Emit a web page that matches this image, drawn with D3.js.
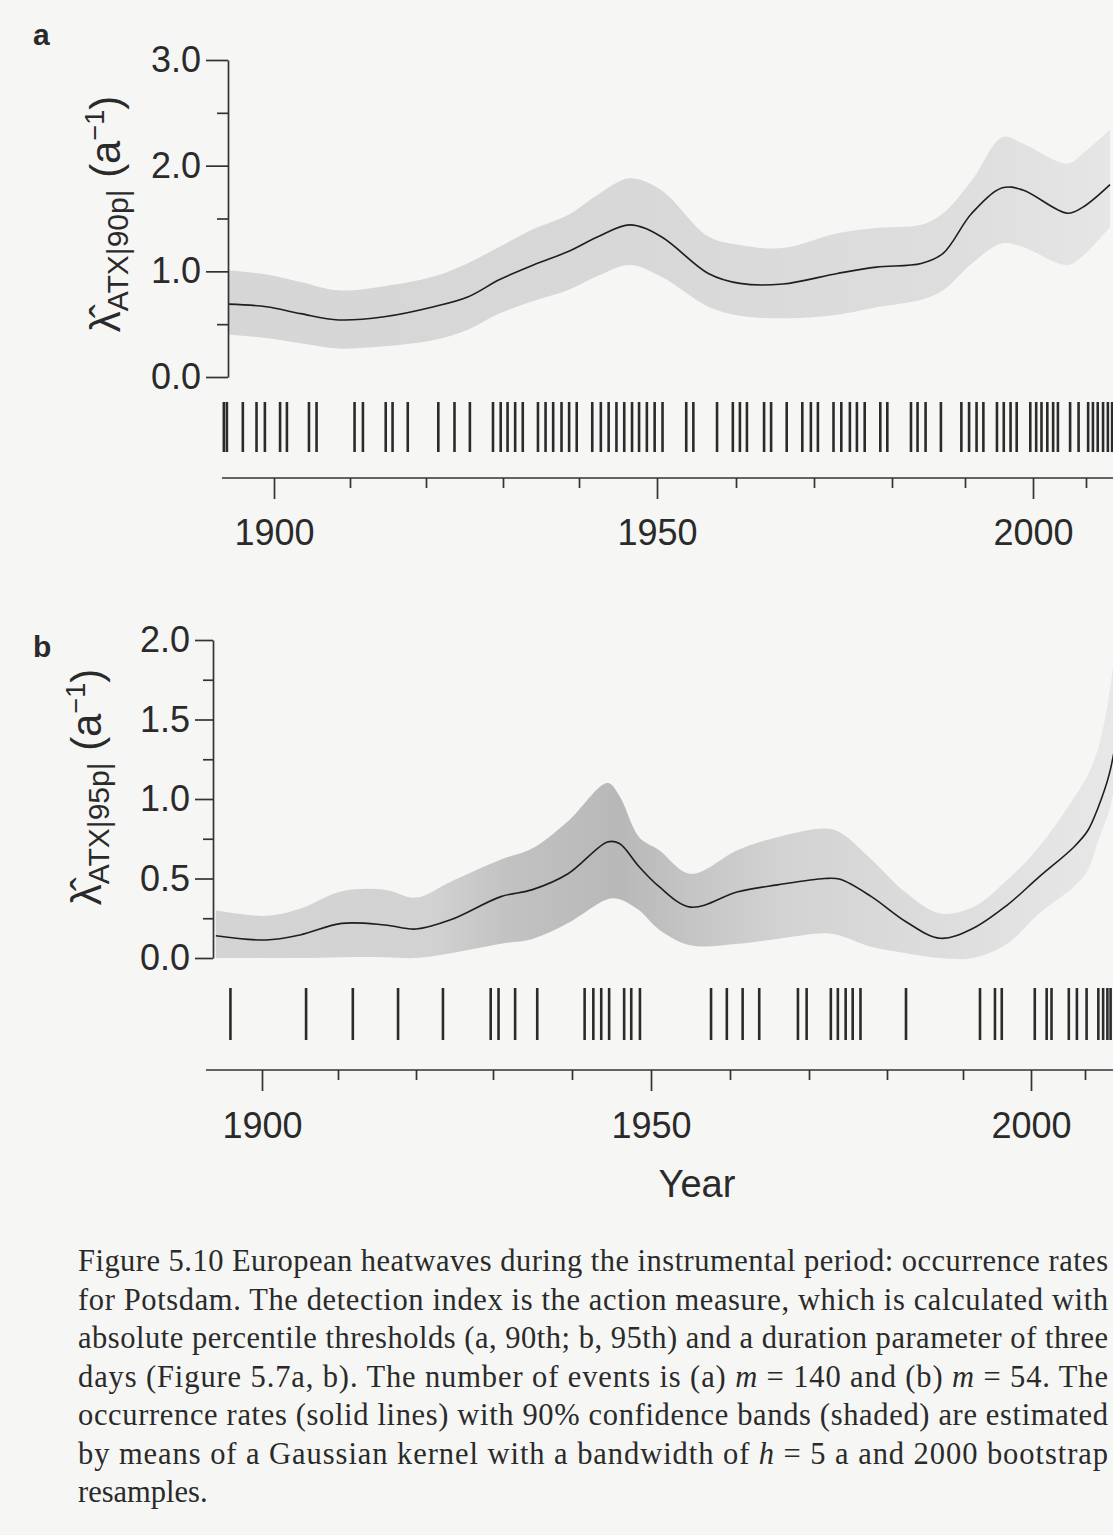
<!DOCTYPE html>
<html>
<head>
<meta charset="utf-8">
<script src="https://cdn.jsdelivr.net/npm/d3@7"></script>
<style>
  html, body { margin: 0; padding: 0; background: #f6f6f5; }
  svg { display: block; }
  text { font-family: "Liberation Sans", Arial, sans-serif; fill: #2a2a2a; }
</style>
</head>
<body>
<svg id="chart" width="1113" height="1535"></svg>
<script>
// ---- panel a: 90th percentile threshold, m = 140 ----
var yearsA = [1894, 1899, 1903.5, 1908.5, 1914.5, 1921, 1925.5, 1929.5, 1934, 1938.5,
    1942.5, 1946.5, 1950.5, 1956.5, 1960.5, 1966, 1973, 1978, 1984, 1987,
    1991, 1995.5, 1998.5, 2006.5, 2009.5, 2014.5];
var rateA = [0.69, 0.665, 0.60, 0.54, 0.57, 0.665, 0.76, 0.92, 1.06, 1.185,
    1.33, 1.44, 1.33, 0.98, 0.886, 0.88, 0.98, 1.04, 1.075, 1.17,
    1.55, 1.79, 1.77, 1.55, 1.61, 1.82];
var lowA = [0.40, 0.37, 0.32, 0.27, 0.29, 0.35, 0.45, 0.60, 0.72, 0.82,
    0.96, 1.06, 0.95, 0.665, 0.58, 0.555, 0.59, 0.66, 0.73, 0.82,
    1.075, 1.265, 1.23, 1.06, 1.15, 1.42];
var highA = [1.01, 0.97, 0.90, 0.82, 0.86, 0.95, 1.08, 1.23, 1.40, 1.53,
    1.73, 1.88, 1.77, 1.33, 1.25, 1.22, 1.36, 1.41, 1.44, 1.55,
    1.86, 2.27, 2.21, 2.02, 2.12, 2.34];
var eventsA = [1893.4, 1893.8, 1895.9, 1897.7, 1898.8, 1900.8, 1901.7, 1904.6, 1905.6, 1910.6,
    1911.7, 1914.7, 1915.6, 1917.6, 1921.6, 1923.7, 1925.7, 1928.7, 1929.7, 1930.6,
    1931.6, 1932.6, 1934.6, 1935.6, 1936.6, 1937.7, 1938.7, 1939.7, 1941.7, 1942.8,
    1943.8, 1944.8, 1945.8, 1946.8, 1947.7, 1948.7, 1949.7, 1950.7, 1953.7, 1954.6,
    1957.6, 1959.6, 1960.5, 1961.4, 1963.6, 1964.5, 1966.5, 1968.5, 1969.6, 1970.5,
    1972.5, 1973.5, 1974.6, 1975.5, 1976.5, 1978.5, 1979.4, 1982.6, 1983.5, 1984.6,
    1986.7, 1989.5, 1990.6, 1991.7, 1992.7, 1994.7, 1995.7, 1996.7, 1997.6, 1999.6,
    2000.6, 2001.6, 2002.7, 2003.8, 2004.7, 2007.0, 2008.6, 2010.4, 2011.3, 2012.2,
    2013.2, 2014.1, 2014.9];

// ---- panel b: 95th percentile threshold, m = 54 ----
var yearsB = [1894, 1900.5, 1905, 1910.5, 1916, 1920, 1924.5, 1931, 1935, 1939.5,
    1944.5, 1946, 1948.5, 1951, 1955, 1961, 1966, 1972, 1974, 1978,
    1982.5, 1987, 1991.5, 1996.5, 2001.5, 2008, 2010.5, 2012.5, 2014.5, 2016];
var rateB = [0.14, 0.113, 0.145, 0.218, 0.208, 0.182, 0.24, 0.386, 0.43, 0.53,
    0.73, 0.72, 0.574, 0.45, 0.32, 0.417, 0.46, 0.50, 0.495, 0.386,
    0.228, 0.124, 0.187, 0.333, 0.51, 0.70, 0.80, 0.95, 1.15, 1.4];
var lowB = [0.0, 0.0, 0.0, 0.005, 0.005, 0.0, 0.03, 0.09, 0.12, 0.22,
    0.37, 0.37, 0.30, 0.18, 0.08, 0.09, 0.12, 0.155, 0.14, 0.07,
    0.03, 0.0, 0.0, 0.09, 0.28, 0.45, 0.55, 0.74, 0.92, 1.15];
var highB = [0.30, 0.265, 0.31, 0.42, 0.43, 0.38, 0.48, 0.62, 0.69, 0.86,
    1.10, 1.02, 0.76, 0.68, 0.53, 0.68, 0.76, 0.815, 0.79, 0.62,
    0.41, 0.28, 0.32, 0.49, 0.70, 1.01, 1.15, 1.32, 1.65, 2.05];
var eventsB = [1895.9, 1905.8, 1911.9, 1917.7, 1923.5, 1929.7, 1930.7, 1932.8, 1935.6, 1941.6,
    1942.7, 1943.7, 1944.7, 1946.6, 1947.5, 1948.6, 1957.6, 1959.6, 1961.6, 1963.7,
    1968.6, 1969.7, 1972.8, 1973.7, 1974.7, 1975.6, 1976.6, 1982.5, 1992.5, 1994.7,
    1995.7, 2000.7, 2002.9, 2003.8, 2007.0, 2008.5, 2010.3, 2012.5, 2013.4, 2014.2, 2014.8];

var yTicksA = [0, 1, 2, 3], yMinorA = [0.5, 1.5, 2.5];
var yTicksB = [0, 0.5, 1, 1.5, 2], yMinorB = [0.25, 0.75, 1.25, 1.75];
var xTicks = [1900, 1950, 2000];
var xMinor = [1910, 1920, 1930, 1940, 1960, 1970, 1980, 1990, 2010];

var captionLines = [
    "Figure 5.10  European heatwaves during the instrumental period: occurrence rates",
    "for Potsdam. The detection index is the action measure, which is calculated with",
    "absolute percentile thresholds (a, 90th; b, 95th) and a duration parameter of three",
    "days (Figure 5.7a, b). The number of events is (a) *m* = 140 and (b) *m* = 54. The",
    "occurrence rates (solid lines) with 90% confidence bands (shaded) are estimated",
    "by means of a Gaussian kernel with a bandwidth of *h* = 5 a and 2000 bootstrap",
    "resamples."
];

var svg = d3.select("#chart");
var defs = svg.append("defs");

// the photographed page bends away on the right, so year positions are piecewise
var knots = [1890, 1900, 1910, 1920, 1930, 1940, 1950, 1960, 1970, 1980, 1990, 2000, 2010, 2016];

var panels = [{
    letter: "a", letterY: 45,
    x: d3.scaleLinear().domain(knots).range([198, 274, 350, 426, 503, 579, 657, 736, 814, 892, 965, 1033, 1086, 1118]),
    y: d3.scaleLinear().domain([0, 3]).range([377, 60]),
    years: yearsA, rate: rateA, low: lowA, high: highA, events: eventsA,
    yTicks: yTicksA, yMinor: yMinorA,
    axisX: 228, yTick: 22, yMinorTick: 11,
    rug: [402, 452], axisY: 478, axisStart: 222, labelY: 545,
    title: { x: 120, y: 214, sub: "ATX|90p|" },
    shades: [[1894, "#d6d6d6"], [1950, "#d8d8d8"], [1990, "#dedede"], [2016, "#e6e6e6"]]
}, {
    letter: "b", letterY: 657,
    x: d3.scaleLinear().domain(knots).range([185, 262, 338, 416, 493, 572, 651, 730, 809, 887, 963, 1031, 1085, 1117]),
    y: d3.scaleLinear().domain([0, 2]).range([958, 640]),
    years: yearsB, rate: rateB, low: lowB, high: highB, events: eventsB,
    yTicks: yTicksB, yMinor: yMinorB,
    axisX: 213, yTick: 18, yMinorTick: 10,
    rug: [988, 1040], axisY: 1070, axisStart: 206, labelY: 1138,
    title: { x: 101, y: 787, sub: "ATX|95p|" },
    shades: [[1894, "#d4d4d4"], [1922, "#d2d2d2"], [1932, "#c2c2c2"], [1946, "#b8b8b8"],
        [1956, "#c6c6c6"], [1966, "#d2d2d2"], [1985, "#dcdcdc"], [2016, "#e8e8e8"]]
}];

panels.forEach(function (p, k) {
    var g = svg.append("g");
    var idx = d3.range(p.years.length);

    // band shading, stippled darker where the bootstrap band is noisy
    var grad = defs.append("linearGradient").attr("id", "shade" + k)
        .attr("gradientUnits", "userSpaceOnUse")
        .attr("x1", p.x(1894)).attr("x2", p.x(2016)).attr("y1", 0).attr("y2", 0);
    p.shades.forEach(function (s) {
        grad.append("stop")
            .attr("offset", (p.x(s[0]) - p.x(1894)) / (p.x(2016) - p.x(1894)))
            .attr("stop-color", s[1]);
    });

    var band = d3.area()
        .x(i => p.x(p.years[i]))
        .y0(i => p.y(p.low[i]))
        .y1(i => p.y(p.high[i]))
        .curve(d3.curveCatmullRom.alpha(0.5));
    g.append("path").datum(idx).attr("d", band)
        .attr("fill", "url(#shade" + k + ")");

    var line = d3.line()
        .x(i => p.x(p.years[i]))
        .y(i => p.y(p.rate[i]))
        .curve(d3.curveCatmullRom.alpha(0.5));
    g.append("path").datum(idx).attr("d", line)
        .attr("fill", "none").attr("stroke", "#1e1e1e").attr("stroke-width", 1.6);

    // y axis
    var yAxis = d3.axisLeft(p.y).tickValues(p.yTicks).tickSize(p.yTick).tickSizeOuter(0)
        .tickPadding(5).tickFormat(d3.format(".1f"));
    g.append("g").attr("transform", "translate(" + p.axisX + ",0)").call(yAxis);
    g.append("g").attr("transform", "translate(" + p.axisX + ",0)")
        .call(d3.axisLeft(p.y).tickValues(p.yMinor).tickSize(p.yMinorTick).tickFormat(""))
        .select(".domain").remove();

    // event rug
    g.append("g").selectAll("line").data(p.events).enter().append("line")
        .attr("x1", d => p.x(d)).attr("x2", d => p.x(d))
        .attr("y1", p.rug[0]).attr("y2", p.rug[1])
        .attr("stroke", "#2b2b2b").attr("stroke-width", 2.6);

    // x axis
    g.append("line").attr("x1", p.axisStart).attr("x2", 1113)
        .attr("y1", p.axisY).attr("y2", p.axisY);
    var xa = g.append("g").attr("transform", "translate(0," + p.axisY + ")")
        .call(d3.axisBottom(p.x).tickValues(xTicks).tickSize(21).tickPadding(p.labelY - p.axisY - 47).tickFormat(d3.format("d")));
    xa.select(".domain").remove();
    g.append("g").attr("transform", "translate(0," + p.axisY + ")")
        .call(d3.axisBottom(p.x).tickValues(xMinor).tickSize(10).tickFormat(""))
        .select(".domain").remove();

    g.selectAll("line, path.domain").filter(function () { return !this.getAttribute("stroke") || this.getAttribute("stroke") === "currentColor"; })
        .attr("stroke", "#333").attr("stroke-width", 1.7);
    g.selectAll(".tick text").style("font-size", "36px").attr("fill", "#2a2a2a");

    // panel letter
    svg.append("text").attr("x", 33).attr("y", p.letterY)
        .style("font-size", "30px").style("font-weight", "bold").text(p.letter);

    // rotated axis title: lambda-hat with subscript, unit a^-1
    var t = svg.append("text")
        .attr("transform", "translate(" + p.title.x + "," + p.title.y + ") rotate(-90)")
        .attr("text-anchor", "middle").style("font-size", "42px");
    t.append("tspan").text("\u03bb\u0302");
    t.append("tspan").attr("dy", 8).style("font-size", "30px").text(p.title.sub);
    t.append("tspan").attr("dy", -8).text(" (a");
    t.append("tspan").attr("dy", -16).style("font-size", "27px").text("\u22121");
    t.append("tspan").attr("dy", 16).text(")");
});

svg.append("text").attr("x", 697).attr("y", 1197).attr("text-anchor", "middle")
    .style("font-size", "38px").text("Year");

// caption, justified like the printed page
var cap = svg.append("g").attr("transform", "translate(78,0)");
captionLines.forEach(function (s, i) {
    var tx = cap.append("text").attr("x", 0).attr("y", 1271 + i * 38.5)
        .style("font-family", "'Liberation Serif', 'Times New Roman', serif")
        .style("font-size", "30.5px").attr("fill", "#1e1e1e");
    if (i < captionLines.length - 1) tx.attr("textLength", 1030).attr("lengthAdjust", "spacing");
    s.split("*").forEach(function (part, j) {
        tx.append("tspan").style("font-style", j % 2 ? "italic" : "normal").text(part);
    });
});
</script>
</body>
</html>
